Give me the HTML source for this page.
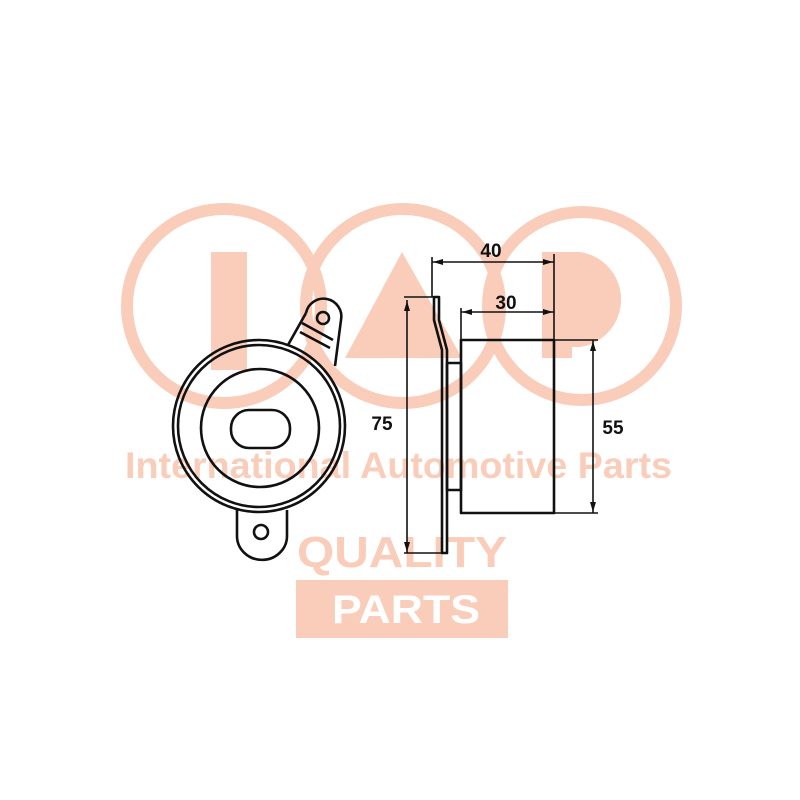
<!DOCTYPE html>
<html><head><meta charset="utf-8"><style>
html,body{margin:0;padding:0;background:#fff;}
svg{display:block;}
</style></head><body>
<svg width="800" height="800" viewBox="0 0 800 800" xmlns="http://www.w3.org/2000/svg">
<rect width="800" height="800" fill="#fff"/>
<g fill="none" stroke="#f9cdb9" stroke-width="12">
<circle cx="224" cy="306" r="97"/>
<circle cx="403" cy="306" r="97"/>
<circle cx="582" cy="306" r="94"/>
</g>
<g fill="#f9cdb9">
<rect x="211" y="252" width="36" height="118"/>
<polygon points="402,252 345,358 462,358"/>
<rect x="542" y="252" width="30" height="106"/>
<path d="M560,252 L580,252 A48,48 0 0 1 580,347 L560,347 Z"/>
</g>
<g font-family="'Liberation Sans',sans-serif" font-weight="bold" fill="#f9cdb9">
<text x="125" y="478" font-size="37" textLength="547" lengthAdjust="spacingAndGlyphs">International Automotive Parts</text>
<text x="297" y="567" font-size="44" textLength="210" lengthAdjust="spacingAndGlyphs">QUALITY</text>
<rect x="296" y="580" width="212" height="58"/>
<text x="332" y="623" font-size="40" fill="#fff" textLength="148" lengthAdjust="spacingAndGlyphs">PARTS</text>
<circle cx="494" cy="590" r="1.5" fill="none" stroke="#f9cdb9" stroke-width="0.6"/>
</g>
<g fill="none" stroke="#111" stroke-width="2.6" stroke-linejoin="round">
<path d="M306,313 A17,17 0 0 1 341,320 L335,366"/>
<path d="M306,313 L288,345"/>
<circle cx="323" cy="318" r="6"/>
<line x1="302" y1="323" x2="333" y2="340"/>
<line x1="300" y1="332" x2="330" y2="348"/>
<circle cx="259" cy="426" r="86"/>
<circle cx="259" cy="426" r="81"/>
<circle cx="260" cy="428" r="59"/>
<rect x="231" y="410" width="59" height="38" rx="18"/>
<path d="M237,510 L237,536 A22,21 0 0 0 287,536 L287,510"/>
<circle cx="261" cy="532" r="7"/>
<path d="M434,297 L439,297 L439,320 L447,350 L447,553 L442,553 L442,350 L434,320 Z"/>
<rect x="447" y="363" width="14" height="127"/>
<rect x="461" y="340" width="93" height="173"/>
</g>
<g stroke="#111" stroke-width="1.6" fill="none">
<line x1="432" y1="257" x2="432" y2="297"/>
<line x1="554" y1="254" x2="554" y2="340"/>
<line x1="432" y1="262" x2="554" y2="262"/>
<line x1="461" y1="308" x2="461" y2="340"/>
<line x1="461" y1="312" x2="554" y2="312"/>
<line x1="404" y1="297" x2="434" y2="297"/>
<line x1="404" y1="553" x2="442" y2="553"/>
<line x1="407" y1="300" x2="407" y2="553"/>
<line x1="554" y1="340" x2="598" y2="340"/>
<line x1="554" y1="513" x2="598" y2="513"/>
<line x1="593" y1="340" x2="593" y2="513"/>
</g>
<g fill="#111">
<polygon points="433,262 443,259 443,265"/>
<polygon points="553,262 543,259 543,265"/>
<polygon points="462,312 472,309 472,315"/>
<polygon points="553,312 543,309 543,315"/>
<polygon points="407,301 404,311 410,311"/>
<polygon points="407,552 404,542 410,542"/>
<polygon points="593,341 590,351 596,351"/>
<polygon points="593,512 590,502 596,502"/>
</g>
<g font-family="'Liberation Sans',sans-serif" font-weight="bold" font-size="19" fill="#111" text-anchor="middle">
<text x="491" y="257">40</text>
<text x="506" y="309">30</text>
<text x="382" y="430">75</text>
<text x="613" y="434">55</text>
</g>
</svg>
</body></html>
